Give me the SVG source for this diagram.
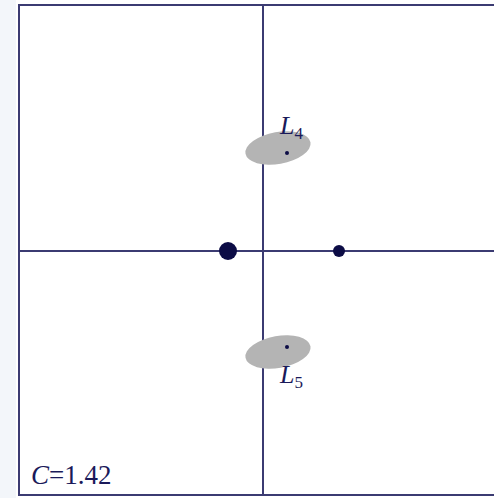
<svg xmlns="http://www.w3.org/2000/svg" width="494" height="498" viewBox="0 0 494 498">
<style>
.ln{stroke:#3b3b72;stroke-width:2;fill:none}
.reg{fill:#b4b4b4}
.pt{fill:#0c0c45}
.t{font-family:"Liberation Serif",serif;font-style:italic;fill:#1a1a5a}
.n{font-family:"Liberation Serif",serif;fill:#1a1a5a}
</style>
<rect x="0" y="0" width="494" height="498" fill="#ffffff"/>
<rect x="0" y="0" width="16" height="498" fill="#f3f6fa"/>
<g id="frame">
<rect x="19" y="5" width="490" height="490" class="ln"/>
</g>
<g id="axes">
<line x1="263" y1="5" x2="263" y2="495" class="ln"/>
<line x1="19" y1="251" x2="494" y2="251" class="ln"/>
</g>
<g id="L4">
<ellipse cx="278" cy="148" rx="33" ry="16" transform="rotate(-10 278 148)" class="reg"/>
<circle cx="287" cy="153" r="2" class="pt"/>
<text x="280" y="134" class="t" font-size="26">L<tspan class="n" font-style="normal" font-size="17" dy="5">4</tspan></text>
</g>
<g id="L5">
<ellipse cx="278" cy="352" rx="33" ry="16" transform="rotate(-10 278 352)" class="reg"/>
<circle cx="287" cy="347" r="2" class="pt"/>
<text x="280" y="383" class="t" font-size="26">L<tspan class="n" font-style="normal" font-size="17" dy="5">5</tspan></text>
</g>
<g id="m1"><circle cx="228" cy="251" r="9" class="pt"/></g>
<g id="m2"><circle cx="339" cy="251" r="6" class="pt"/></g>
<g id="label">
<text x="31" y="484" font-size="27" class="n"><tspan font-style="italic">C</tspan>=1.42</text>
</g>
</svg>
